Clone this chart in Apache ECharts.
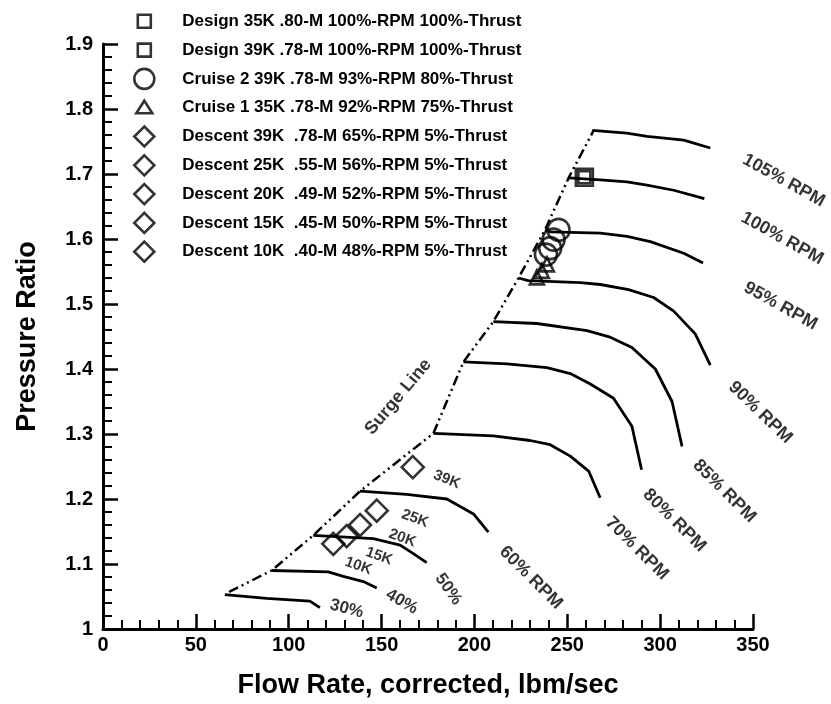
<!DOCTYPE html>
<html>
<head>
<meta charset="utf-8">
<script src="https://cdn.jsdelivr.net/npm/echarts@6/dist/echarts.min.js"></script>
<style>
html,body{margin:0;padding:0;background:#fff;}
#chart{width:831px;height:704px;}
</style>
</head>
<body>
<div id="chart"></div>
<script>
// ---------- data ----------
var xTickLabels = ['0','50','100','150','200','250','300','350'];
var yTickLabels = ['1','1.1','1.2','1.3','1.4','1.5','1.6','1.7','1.8','1.9'];

var speed30  = [[65.6,1.053],[88.1,1.047],[111.4,1.043],[116.8,1.033]];
var speed40  = [[90.8,1.090],[121.3,1.088],[129.4,1.081],[140.2,1.073],[147.4,1.063]];
var speed50  = [[113.2,1.144],[145.6,1.139],[160,1.129],[167.1,1.116],[174.3,1.102]];
var speed60  = [[138.4,1.212],[163.5,1.207],[185.1,1.200],[199.5,1.177],[207.5,1.149]];
var speed70  = [[177.9,1.301],[210.2,1.297],[230,1.290],[240.8,1.2835],[251.6,1.266],[261.5,1.243],[267.7,1.202]];
var speed80  = [[194.1,1.411],[217.5,1.408],[239,1.402],[251.6,1.393],[262.4,1.377],[274.9,1.355],[284.8,1.312],[290,1.245]];
var speed85  = [[210.2,1.473],[233.6,1.470],[260.6,1.459],[273.1,1.449],[284.8,1.433],[297.4,1.400],[306.4,1.350],[311.8,1.281]];
var speed90  = [[223.7,1.540],[229,1.536],[257,1.533],[267.8,1.530],[283,1.522],[296.5,1.510],[307.3,1.489],[318.9,1.454],[327,1.406]];
var speed95  = [[238,1.614],[241,1.611],[267.8,1.609],[282.2,1.604],[294.7,1.596],[312.7,1.578],[323.1,1.563]];
var speed100 = [[250.7,1.694],[267.8,1.691],[282.2,1.688],[292.9,1.683],[307.3,1.675],[323.8,1.662]];
var speed105 = [[263.5,1.767],[282,1.763],[293,1.758],[312.7,1.752],[327,1.740]];
var surgeLine = [[67.9,1.057],[90.8,1.090],[113.2,1.144],[138.4,1.212],[177.9,1.301],[194.1,1.411],[210.2,1.473],[223.7,1.540],[238,1.614],[250.7,1.694],[264.2,1.767]];

var design35 = [[259.2,1.695]];
var design39 = [[259.2,1.695]];
var cruise2  = [[245.3,1.614],[242.6,1.599],[240.8,1.586],[238.5,1.576]];
var cruise1  = [[239,1.561],[236.3,1.551],[233.6,1.541]];
var descent39 = [[166.8,1.249]];
var descent25 = [[147.4,1.182]];
var descent20 = [[138.4,1.160]];
var descent15 = [[131.2,1.143]];
var descent10 = [[124,1.131]];

var seriesNames = [
  'Design 35K .80-M 100%-RPM 100%-Thrust',
  'Design 39K .78-M 100%-RPM 100%-Thrust',
  'Cruise 2 39K .78-M 93%-RPM 80%-Thrust',
  'Cruise 1 35K .78-M 92%-RPM 75%-Thrust',
  'Descent 39K  .78-M 65%-RPM 5%-Thrust',
  'Descent 25K  .55-M 56%-RPM 5%-Thrust',
  'Descent 20K  .49-M 52%-RPM 5%-Thrust',
  'Descent 15K  .45-M 50%-RPM 5%-Thrust',
  'Descent 10K  .40-M 48%-RPM 5%-Thrust'
];

var annotationText = ['105% RPM','100% RPM','95% RPM','90% RPM','85% RPM','80% RPM','70% RPM','60% RPM','50%','40%','30%','39K','25K','20K','15K','10K','Surge Line'];
var annotationPos  = [[366.6,1.690],[365.7,1.601],[364.8,1.497],[354,1.333],[334.6,1.212],[307.7,1.167],[287.5,1.124],[230.4,1.079],[186,1.061],[160.9,1.042],[131.2,1.031],[185.1,1.230],[168,1.170],[161.2,1.140],[148.6,1.112],[137.5,1.097],[159,1.357]];

// ---------- styles ----------
var FONT = '"Liberation Sans", Arial, Helvetica, sans-serif';
var annotationRotate = [-29,-29,-29,-44,-45,-45,-45,-45,-55,-30,-15,-22,-20,-20,-20,-20,50];
var annotationSize   = [18,18,18,18,18,18,18,18,17,17,17,15,15,15,15,15,18];

var markerStyle = {color:'rgba(0,0,0,0)', borderColor:'#000', borderWidth:2.6};
var lineStyle = {color:'#000', width:2.8};

var iconSquare   = 'path://M0,0M44,22M4.5,4.5L17.5,4.5L17.5,17.5L4.5,17.5Z';
var iconCircle   = 'path://M0,0M44,22M1,11A10,10,0,1,1,21,11A10,10,0,1,1,1,11Z';
var iconTriangle = 'path://M0,0M44,22M11,4L19,16.5L3,16.5Z';
var iconDiamond  = 'path://M0,0M44,22M11,1L21,11L11,21L1,11Z';
var legendIcons = [iconSquare, iconSquare, iconCircle, iconTriangle, iconDiamond, iconDiamond, iconDiamond, iconDiamond, iconDiamond];

var chart = echarts.init(document.getElementById('chart'), null, {renderer:'canvas'});

function speedSeries(d){
  return {type:'line', data:d, symbol:'none', showSymbol:false, lineStyle:lineStyle, silent:true, z:2, animation:false};
}
function markerSeries(name, d, symbol, size){
  return {type:'scatter', name:name, data:d, symbol:symbol, symbolSize:size, itemStyle:markerStyle, z:4, silent:true, animation:false};
}

var series = [
  speedSeries(speed30), speedSeries(speed40), speedSeries(speed50), speedSeries(speed60),
  speedSeries(speed70), speedSeries(speed80), speedSeries(speed85), speedSeries(speed90),
  speedSeries(speed95), speedSeries(speed100), speedSeries(speed105),
  {type:'line', data:surgeLine, symbol:'none', showSymbol:false, silent:true, z:2, animation:false,
   lineStyle:{color:'#000', width:2.5, type:[10,4,2,4,2,4]}},
  markerSeries(seriesNames[0], design35, 'rect', 17),
  markerSeries(seriesNames[1], design39, 'rect', 12),
  markerSeries(seriesNames[2], cruise2, 'circle', 22),
  markerSeries(seriesNames[3], cruise1, 'triangle', 14),
  markerSeries(seriesNames[4], descent39, 'diamond', 22),
  markerSeries(seriesNames[5], descent25, 'diamond', 22),
  markerSeries(seriesNames[6], descent20, 'diamond', 22),
  markerSeries(seriesNames[7], descent15, 'diamond', 22),
  markerSeries(seriesNames[8], descent10, 'diamond', 22),
  {type:'scatter', symbolSize:0, silent:true, clip:false, z:5, animation:false,
   data: annotationText.map(function(t,i){
     return {name:t, value:annotationPos[i],
       label:{show:true, position:'inside', formatter:t, rotate:annotationRotate[i],
              fontSize:annotationSize[i], fontWeight:'bold', fontFamily:FONT, color:'#000'}};
   })}
];

var option = {
  animation:false,
  backgroundColor:'#fff',
  textStyle:{fontFamily:FONT},
  grid:{left:103, right:78, top:44, bottom:70, containLabel:false},
  legend:{
    orient:'vertical', left:127, top:4, itemWidth:44, itemHeight:22, itemGap:4.2,
    selectedMode:false,
    textStyle:{fontSize:17, fontWeight:'bold', color:'#000', fontFamily:FONT},
    data: seriesNames.map(function(n,i){
      return {name:n, icon:legendIcons[i], itemStyle:{color:'rgba(0,0,0,0)', borderColor:'#000', borderWidth:2.6}};
    })
  },
  xAxis:{
    type:'value', min:0, max:350, interval:50,
    name:'Flow Rate, corrected, lbm/sec', nameLocation:'middle', nameGap:43,
    nameTextStyle:{fontSize:27, fontWeight:'bold', color:'#000', fontFamily:FONT},
    axisLine:{show:true, onZero:false, lineStyle:{color:'#000', width:3}},
    axisTick:{show:true, inside:true, length:15, lineStyle:{color:'#000', width:2.5}},
    minorTick:{show:true, splitNumber:5, length:9, lineStyle:{color:'#000', width:2}},
    splitLine:{show:false},
    axisLabel:{margin:6, fontSize:20, fontWeight:'bold', color:'#000', fontFamily:FONT,
      formatter:function(v){ return xTickLabels[Math.round(v/50)]; }}
  },
  yAxis:{
    type:'value', min:1, max:1.9, interval:0.1,
    name:'Pressure Ratio', nameLocation:'middle', nameGap:62,
    nameTextStyle:{fontSize:27, fontWeight:'bold', color:'#000', fontFamily:FONT},
    axisLine:{show:true, onZero:false, lineStyle:{color:'#000', width:3}},
    axisTick:{show:true, inside:true, length:15, lineStyle:{color:'#000', width:2.5}},
    minorTick:{show:true, splitNumber:5, length:9, lineStyle:{color:'#000', width:2}},
    splitLine:{show:false},
    axisLabel:{margin:10, fontSize:20, fontWeight:'bold', color:'#000', fontFamily:FONT,
      formatter:function(v){ return yTickLabels[Math.round((v-1)*10)]; }}
  },
  series:series
};
chart.setOption(option);
</script>
</body>
</html>
